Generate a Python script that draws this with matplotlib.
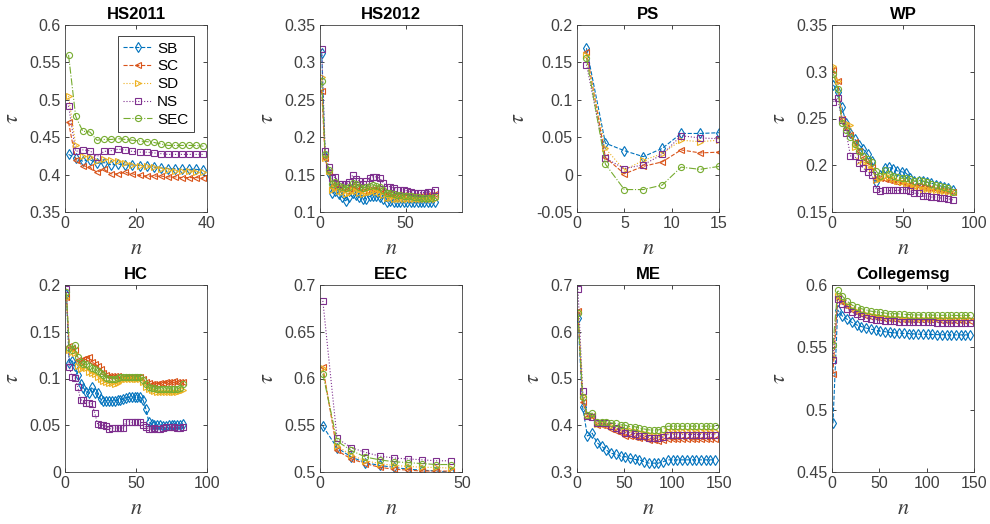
import numpy as np
import matplotlib
matplotlib.use('Agg')
import matplotlib.pyplot as plt
from matplotlib.ticker import FuncFormatter

plt.rcParams['font.family'] = ['Liberation Sans', 'DejaVu Sans']
plt.rcParams['mathtext.fontset'] = 'stix'

# ---------------- data ----------------
methods = ['SB', 'SC', 'SD', 'NS', 'SEC']

hs2011_x = list(range(1, 40, 2))
hs2011_sb = [0.427, 0.422, 0.418, 0.420, 0.415, 0.416, 0.413, 0.414, 0.413, 0.413,
             0.412, 0.411, 0.410, 0.409, 0.408, 0.408, 0.407, 0.407, 0.407, 0.406]
hs2011_sc = [0.470, 0.420, 0.412, 0.410, 0.403, 0.407, 0.401, 0.401, 0.403, 0.401,
             0.399, 0.398, 0.398, 0.398, 0.397, 0.397, 0.396, 0.396, 0.396, 0.395]
hs2011_sd = [0.505, 0.440, 0.425, 0.423, 0.418, 0.421, 0.419, 0.418, 0.415, 0.413,
             0.412, 0.411, 0.410, 0.408, 0.406, 0.405, 0.405, 0.405, 0.404, 0.404]
hs2011_ns = [0.492, 0.431, 0.433, 0.432, 0.424, 0.431, 0.432, 0.434, 0.433, 0.431,
             0.430, 0.430, 0.429, 0.428, 0.427, 0.427, 0.427, 0.427, 0.427, 0.427]
hs2011_sec = [0.560, 0.478, 0.458, 0.457, 0.446, 0.447, 0.447, 0.448, 0.447, 0.446,
              0.445, 0.444, 0.443, 0.441, 0.439, 0.439, 0.439, 0.439, 0.439, 0.438]

hs2012_x = list(range(1, 68, 2))
hs2012_sb = [0.313, 0.175, 0.152, 0.125, 0.128, 0.124, 0.120, 0.115, 0.120, 0.126,
             0.123, 0.120, 0.117, 0.118, 0.121, 0.122, 0.121, 0.120, 0.117, 0.114,
             0.115, 0.114, 0.114, 0.114, 0.114, 0.113, 0.113, 0.113, 0.113, 0.113,
             0.113, 0.113, 0.113, 0.114]
hs2012_sc = [0.262, 0.172, 0.153, 0.134, 0.137, 0.132, 0.131, 0.128, 0.131, 0.135,
             0.133, 0.131, 0.128, 0.129, 0.131, 0.131, 0.131, 0.130, 0.127, 0.124,
             0.124, 0.123, 0.123, 0.123, 0.123, 0.122, 0.122, 0.122, 0.122, 0.122,
             0.122, 0.123, 0.123, 0.124]
hs2012_sd = [0.280, 0.172, 0.155, 0.130, 0.132, 0.128, 0.127, 0.124, 0.126, 0.130,
             0.128, 0.126, 0.124, 0.125, 0.127, 0.128, 0.127, 0.126, 0.123, 0.119,
             0.119, 0.118, 0.118, 0.118, 0.118, 0.117, 0.117, 0.117, 0.117, 0.117,
             0.117, 0.117, 0.117, 0.118]
hs2012_ns = [0.318, 0.182, 0.160, 0.145, 0.147, 0.138, 0.138, 0.137, 0.140, 0.149,
             0.144, 0.142, 0.138, 0.141, 0.146, 0.147, 0.147, 0.145, 0.139, 0.134,
             0.134, 0.132, 0.130, 0.130, 0.130, 0.128, 0.127, 0.126, 0.126, 0.126,
             0.126, 0.127, 0.127, 0.130]
hs2012_sec = [0.275, 0.178, 0.156, 0.137, 0.140, 0.135, 0.134, 0.132, 0.133, 0.139,
              0.137, 0.134, 0.132, 0.133, 0.135, 0.136, 0.135, 0.134, 0.130, 0.126,
              0.125, 0.124, 0.123, 0.123, 0.122, 0.121, 0.121, 0.120, 0.120, 0.119,
              0.119, 0.119, 0.119, 0.120]

ps_x = [1, 3, 5, 7, 9, 11, 13, 15]
ps_sb = [0.169, 0.042, 0.032, 0.024, 0.035, 0.055, 0.055, 0.056]
ps_sc = [0.164, 0.023, 0.001, 0.011, 0.017, 0.033, 0.029, 0.030]
ps_sd = [0.160, 0.035, 0.006, 0.019, 0.028, 0.046, 0.044, 0.046]
ps_ns = [0.147, 0.022, 0.008, 0.013, 0.027, 0.052, 0.049, 0.048]
ps_sec = [0.156, 0.014, -0.020, -0.020, -0.014, 0.010, 0.007, 0.011]

wp_x = list(range(1, 86, 3))
wp_sb = [0.286, 0.278, 0.262, 0.245, 0.235, 0.228, 0.222, 0.217, 0.212, 0.205,
         0.182, 0.190, 0.197, 0.198, 0.196, 0.194, 0.193, 0.192, 0.186, 0.183,
         0.183, 0.183, 0.182, 0.181, 0.179, 0.178, 0.177, 0.176, 0.174]
wp_sc = [0.302, 0.290, 0.250, 0.240, 0.232, 0.225, 0.215, 0.208, 0.203, 0.198,
         0.186, 0.186, 0.185, 0.184, 0.183, 0.182, 0.182, 0.181, 0.179, 0.178,
         0.178, 0.177, 0.176, 0.176, 0.175, 0.174, 0.173, 0.172, 0.171]
wp_sd = [0.306, 0.290, 0.250, 0.245, 0.243, 0.220, 0.205, 0.202, 0.198, 0.196,
         0.184, 0.185, 0.188, 0.187, 0.185, 0.183, 0.182, 0.180, 0.178, 0.177,
         0.176, 0.175, 0.175, 0.174, 0.173, 0.172, 0.172, 0.171, 0.170]
wp_ns = [0.268, 0.272, 0.248, 0.235, 0.210, 0.210, 0.202, 0.197, 0.193, 0.190,
         0.175, 0.172, 0.173, 0.173, 0.173, 0.173, 0.174, 0.174, 0.172, 0.170,
         0.170, 0.167, 0.167, 0.166, 0.166, 0.165, 0.165, 0.164, 0.163]
wp_sec = [0.298, 0.282, 0.245, 0.238, 0.230, 0.223, 0.215, 0.210, 0.207, 0.203,
          0.194, 0.188, 0.195, 0.191, 0.189, 0.187, 0.186, 0.186, 0.185, 0.183,
          0.184, 0.183, 0.182, 0.180, 0.179, 0.178, 0.177, 0.176, 0.171]

hc_x = list(range(1, 84, 2))
hc_sb = [0.190, 0.117, 0.119, 0.113, 0.104, 0.094, 0.090, 0.086, 0.084, 0.091,
         0.085, 0.084, 0.078, 0.076, 0.076, 0.076, 0.076, 0.076, 0.077, 0.077,
         0.078, 0.079, 0.080, 0.080, 0.080, 0.080, 0.080, 0.077, 0.067, 0.054,
         0.051, 0.050, 0.050, 0.050, 0.049, 0.049, 0.050, 0.050, 0.050, 0.050,
         0.050, 0.051]
hc_sc = [0.187, 0.135, 0.133, 0.130, 0.120, 0.118, 0.121, 0.122, 0.123, 0.118,
         0.116, 0.113, 0.110, 0.106, 0.104, 0.103, 0.103, 0.103, 0.103, 0.101,
         0.101, 0.102, 0.102, 0.102, 0.102, 0.102, 0.102, 0.100, 0.096, 0.095,
         0.094, 0.094, 0.094, 0.095, 0.095, 0.096, 0.096, 0.096, 0.097, 0.096,
         0.096, 0.096]
hc_sd = [0.186, 0.130, 0.128, 0.127, 0.113, 0.110, 0.112, 0.111, 0.107, 0.106,
         0.105, 0.102, 0.099, 0.097, 0.096, 0.095, 0.095, 0.094, 0.095, 0.097,
         0.099, 0.100, 0.100, 0.100, 0.100, 0.100, 0.100, 0.096, 0.091, 0.089,
         0.088, 0.087, 0.086, 0.086, 0.086, 0.086, 0.086, 0.086, 0.086, 0.086,
         0.087, 0.088]
hc_ns = [0.196, 0.112, 0.102, 0.101, 0.091, 0.077, 0.077, 0.074, 0.074, 0.073,
         0.063, 0.051, 0.050, 0.050, 0.049, 0.046, 0.047, 0.047, 0.047, 0.047,
         0.047, 0.054, 0.054, 0.053, 0.053, 0.053, 0.053, 0.050, 0.048, 0.046,
         0.046, 0.047, 0.046, 0.046, 0.047, 0.048, 0.048, 0.048, 0.048, 0.047,
         0.047, 0.048]
hc_sec = [0.192, 0.133, 0.131, 0.136, 0.123, 0.118, 0.116, 0.115, 0.113, 0.111,
          0.110, 0.108, 0.106, 0.104, 0.101, 0.100, 0.100, 0.100, 0.101, 0.102,
          0.102, 0.102, 0.102, 0.102, 0.102, 0.102, 0.102, 0.098, 0.094, 0.091,
          0.090, 0.090, 0.089, 0.089, 0.089, 0.089, 0.089, 0.089, 0.089, 0.089,
          0.090, 0.094]

eec_x = [1, 6, 11, 16, 21, 26, 31, 36, 41, 46]
eec_sb = [0.549, 0.526, 0.516, 0.510, 0.507, 0.505, 0.503, 0.502, 0.501, 0.500]
eec_sc = [0.612, 0.523, 0.514, 0.509, 0.505, 0.503, 0.502, 0.501, 0.501, 0.501]
eec_sd = [0.611, 0.528, 0.518, 0.512, 0.509, 0.507, 0.506, 0.505, 0.505, 0.504]
eec_ns = [0.683, 0.536, 0.526, 0.521, 0.517, 0.515, 0.514, 0.513, 0.512, 0.512]
eec_sec = [0.605, 0.533, 0.523, 0.516, 0.513, 0.511, 0.510, 0.509, 0.508, 0.508]

me_x = list(range(1, 147, 5))
me_sb = [0.630, 0.438, 0.377, 0.383, 0.363, 0.355, 0.347, 0.340, 0.338, 0.334,
         0.333, 0.329, 0.327, 0.326, 0.322, 0.319, 0.319, 0.319, 0.322, 0.326,
         0.326, 0.326, 0.326, 0.326, 0.326, 0.326, 0.326, 0.326, 0.326, 0.326]
me_sc = [0.645, 0.450, 0.418, 0.420, 0.400, 0.400, 0.398, 0.392, 0.388, 0.384,
         0.378, 0.377, 0.375, 0.372, 0.372, 0.368, 0.368, 0.367, 0.369, 0.371,
         0.370, 0.370, 0.370, 0.370, 0.370, 0.370, 0.370, 0.370, 0.370, 0.370]
me_sd = [0.645, 0.462, 0.420, 0.420, 0.403, 0.403, 0.402, 0.399, 0.396, 0.394,
         0.390, 0.389, 0.388, 0.385, 0.384, 0.381, 0.380, 0.380, 0.382, 0.388,
         0.388, 0.388, 0.388, 0.388, 0.388, 0.388, 0.388, 0.388, 0.388, 0.388]
me_ns = [0.692, 0.473, 0.420, 0.418, 0.405, 0.404, 0.404, 0.398, 0.394, 0.390,
         0.384, 0.384, 0.382, 0.378, 0.378, 0.373, 0.372, 0.372, 0.374, 0.380,
         0.380, 0.380, 0.380, 0.380, 0.380, 0.380, 0.380, 0.380, 0.380, 0.380]
me_sec = [0.640, 0.460, 0.422, 0.426, 0.408, 0.408, 0.408, 0.405, 0.404, 0.401,
          0.400, 0.397, 0.397, 0.394, 0.392, 0.390, 0.390, 0.390, 0.393, 0.398,
          0.398, 0.398, 0.398, 0.398, 0.398, 0.398, 0.398, 0.398, 0.398, 0.398]

cm_x = list(range(1, 147, 5))
cm_sb = [0.489, 0.580, 0.575, 0.5725, 0.570, 0.568, 0.5667, 0.5655, 0.5646, 0.5638,
         0.563, 0.5625, 0.562, 0.5617, 0.5614, 0.5612, 0.561, 0.5608, 0.5606, 0.5605,
         0.5604, 0.5603, 0.5602, 0.5601, 0.5601, 0.560, 0.560, 0.560, 0.560, 0.560]
cm_sc = [0.529, 0.590, 0.586, 0.583, 0.580, 0.578, 0.5765, 0.5755, 0.5747, 0.574,
         0.5735, 0.573, 0.5727, 0.5725, 0.5723, 0.5721, 0.572, 0.5719, 0.5718, 0.5717,
         0.5717, 0.5716, 0.5716, 0.5715, 0.5715, 0.5715, 0.5715, 0.5715, 0.5715, 0.5715]
cm_sd = [0.542, 0.591, 0.587, 0.584, 0.581, 0.579, 0.5775, 0.5765, 0.5757, 0.575,
         0.5745, 0.574, 0.5737, 0.5735, 0.5733, 0.5731, 0.573, 0.5729, 0.5728, 0.5727,
         0.5727, 0.5726, 0.5726, 0.5725, 0.5725, 0.5725, 0.5725, 0.5725, 0.5725, 0.5725]
cm_ns = [0.540, 0.589, 0.5845, 0.581, 0.5785, 0.5765, 0.5748, 0.5738, 0.573, 0.5723,
         0.5718, 0.5714, 0.571, 0.5708, 0.5706, 0.5704, 0.5703, 0.5702, 0.5701, 0.570,
         0.570, 0.570, 0.5699, 0.5699, 0.5699, 0.5698, 0.5698, 0.5698, 0.5698, 0.5698]
cm_sec = [0.552, 0.596, 0.591, 0.587, 0.584, 0.582, 0.581, 0.580, 0.579, 0.5785,
          0.578, 0.5775, 0.577, 0.577, 0.5768, 0.5765, 0.5763, 0.576, 0.576, 0.576,
          0.576, 0.5758, 0.5758, 0.5757, 0.5757, 0.5757, 0.5756, 0.5756, 0.5756, 0.5756]

# ---------------- style (MATLAB default look) ----------------
colors = ['#0072BD', '#D95319', '#EDB120', '#7E2F8E', '#77AC30']
linestyles = ['--', '--', ':', ':', '-.']
markers = ['d', '<', '>', 's', 'o']
msizes = [5.0, 4.4, 4.4, 4.0, 4.4]

panels = [
    ('HS2011', hs2011_x, [hs2011_sb, hs2011_sc, hs2011_sd, hs2011_ns, hs2011_sec],
     (0, 40), [0, 20, 40], (0.35, 0.6), [0.35, 0.4, 0.45, 0.5, 0.55, 0.6]),
    ('HS2012', hs2012_x, [hs2012_sb, hs2012_sc, hs2012_sd, hs2012_ns, hs2012_sec],
     (0, 83), [0, 50], (0.1, 0.35), [0.1, 0.15, 0.2, 0.25, 0.3, 0.35]),
    ('PS', ps_x, [ps_sb, ps_sc, ps_sd, ps_ns, ps_sec],
     (0, 15), [0, 5, 10, 15], (-0.05, 0.2), [-0.05, 0, 0.05, 0.1, 0.15, 0.2]),
    ('WP', wp_x, [wp_sb, wp_sc, wp_sd, wp_ns, wp_sec],
     (0, 100), [0, 50, 100], (0.15, 0.35), [0.15, 0.2, 0.25, 0.3, 0.35]),
    ('HC', hc_x, [hc_sb, hc_sc, hc_sd, hc_ns, hc_sec],
     (0, 100), [0, 50, 100], (0, 0.2), [0, 0.05, 0.1, 0.15, 0.2]),
    ('EEC', eec_x, [eec_sb, eec_sc, eec_sd, eec_ns, eec_sec],
     (0, 50), [0, 50], (0.5, 0.7), [0.5, 0.55, 0.6, 0.65, 0.7]),
    ('ME', me_x, [me_sb, me_sc, me_sd, me_ns, me_sec],
     (0, 150), [0, 50, 100, 150], (0.3, 0.7), [0.3, 0.4, 0.5, 0.6, 0.7]),
    ('Collegemsg', cm_x, [cm_sb, cm_sc, cm_sd, cm_ns, cm_sec],
     (0, 150), [0, 50, 100, 150], (0.45, 0.6), [0.45, 0.5, 0.55, 0.6]),
]

fig = plt.figure(figsize=(9.9, 5.24), dpi=100)
W, H = 990, 524
lefts = [65, 320, 577, 832]
tops = [25, 285]
aw, ah = 142, 187

fmt = FuncFormatter(lambda v, p: '%g' % round(v, 4))
axcol = '#262626'

for i, (title, x, series, xl, xt, yl, yt) in enumerate(panels):
    r, c = divmod(i, 4)
    ax = fig.add_axes([lefts[c] / W, 1 - (tops[r] + ah) / H, aw / W, ah / H])
    for k, y in enumerate(series):
        ax.plot(x, y, linestyle=linestyles[k], color=colors[k], marker=markers[k],
                markersize=msizes[k], markerfacecolor='none', markeredgewidth=0.8,
                linewidth=0.8, label=methods[k])
    ax.set_xlim(xl)
    ax.set_ylim(yl)
    ax.set_xticks(xt)
    ax.set_yticks(yt)
    ax.xaxis.set_major_formatter(fmt)
    ax.yaxis.set_major_formatter(fmt)
    ax.tick_params(direction='in', top=True, right=True, length=3, width=0.6,
                   colors=axcol, labelsize=11.5, labelcolor='#404040', pad=3)
    for s in ax.spines.values():
        s.set_color('#404040')
        s.set_linewidth(0.6)
    ax.set_title(title, fontsize=12, fontweight='bold', pad=4, color='black')
    ax.set_xlabel(r'$n$', fontsize=16, labelpad=5, color='#404040')
    ax.set_ylabel(r'$\tau$', fontsize=16, labelpad=5, color='#404040')
    if i == 0:
        leg = ax.legend(loc='upper right', bbox_to_anchor=(0.905, 0.94),
                        borderaxespad=0, fontsize=11, handlelength=1.9,
                        labelspacing=0.25, handletextpad=0.3, borderpad=0.35,
                        fancybox=False, framealpha=1)
        leg.get_frame().set_edgecolor('#262626')
        leg.get_frame().set_linewidth(0.6)

fig.savefig('out.png', dpi=100)
